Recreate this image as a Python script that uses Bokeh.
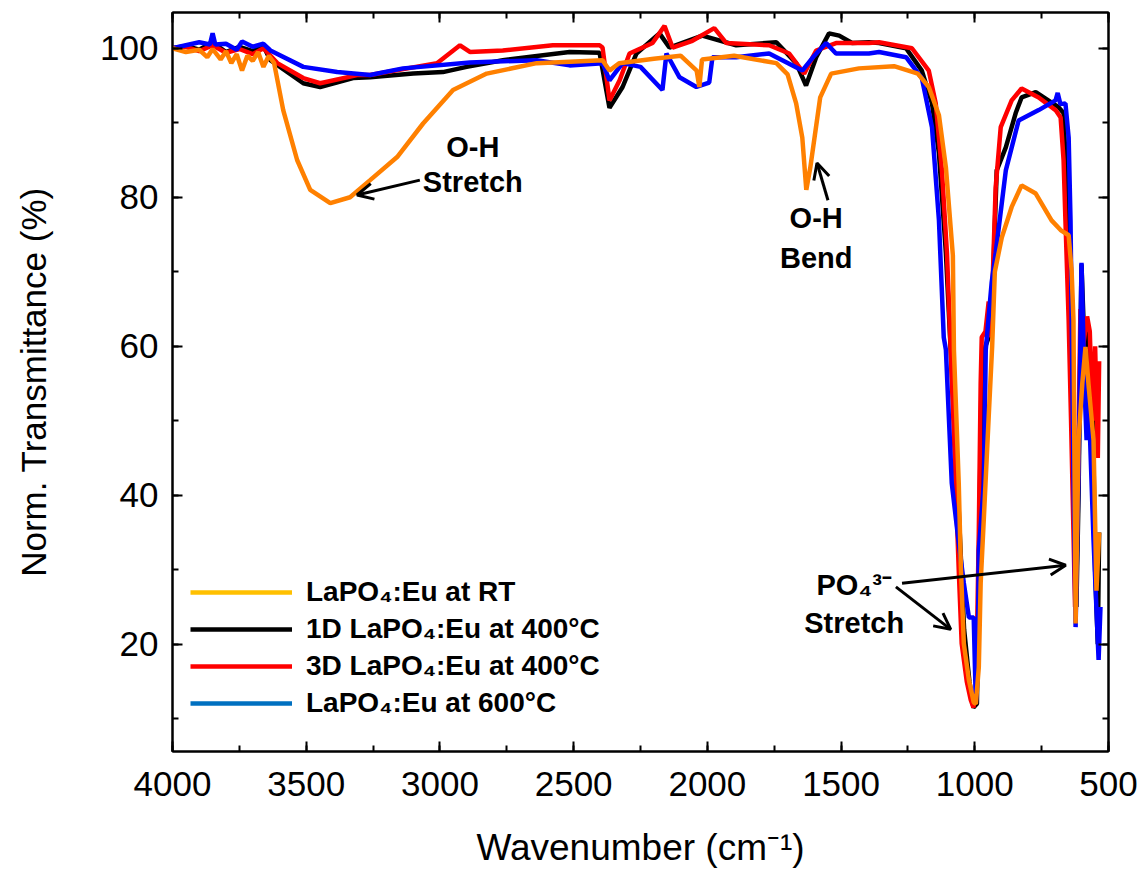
from bokeh.plotting import figure
from bokeh.models import (Range1d, SingleIntervalTicker, LinearAxis, Legend, LegendItem,
                          Label, Arrow, OpenHead, CustomLabelingPolicy)
from bokeh.embed import file_html
from bokeh.resources import INLINE

# ---------------- data ----------------
rt_wn = [4000, 3950, 3900, 3870, 3850, 3820, 3800, 3780, 3760, 3740, 3720, 3700, 3680, 3660,
         3640, 3620, 3586, 3534, 3485, 3410, 3336, 3261, 3160, 3063, 2951, 2825, 2638, 2392,
         2366, 2330, 2200, 2100, 2040, 2030, 2020, 1900, 1742, 1700, 1668, 1645, 1630, 1615,
         1578, 1537, 1433, 1302, 1213, 1172, 1134, 1108, 1082, 1078, 1060, 1052, 1041, 1022,
         1004, 996, 985, 978, 966, 948, 935, 925, 899, 862, 825, 772, 713, 679, 649, 638, 631,
         623, 612, 598, 586, 575, 556, 545, 535]
rt_t = [100, 99.5, 99.8, 98.8, 99.9, 98.5, 99.6, 98.0, 99.2, 97.0, 99.0, 98.3, 99.5, 97.5,
        99.0, 98.0, 91.7, 85.0, 81.0, 79.2, 80.0, 82.3, 85.4, 89.9, 94.4, 96.6, 98.0, 98.4,
        97.0, 98.0, 98.6, 99.0, 97.0, 94.8, 98.5, 99.0, 98.0, 96.5, 92.6, 88.0, 81.0, 84.0,
        93.4, 96.6, 97.3, 97.6, 96.6, 94.8, 91.0, 84.0, 72.2, 59.5, 41.6, 30.3, 20.1, 15.2,
        12.2, 12.0, 16.9, 28.2, 37.0, 50.5, 60.0, 70.0, 74.6, 78.7, 81.6, 80.5, 76.9, 75.6,
        74.9, 70.2, 63.5, 22.8, 47.4, 55.0, 59.9, 55.0, 47.4, 27.2, 35.0]

d1_wn = [4000, 3950, 3900, 3850, 3800, 3750, 3700, 3660, 3634, 3511, 3448, 3325, 3261, 3100,
         2989, 2900, 2765, 2515, 2403, 2366, 2317, 2265, 2179, 2142, 2019, 1892, 1742, 1668,
         1631, 1593, 1545, 1507, 1459, 1396, 1358, 1257, 1198, 1160, 1134, 1108, 1090, 1060,
         1040, 1020, 1005, 992, 985, 975, 960, 950, 937, 918, 884, 847, 825, 772, 687, 668,
         657, 642, 630, 620, 612, 601, 590, 580, 570, 560, 550, 540, 535]
d1_t = [100, 100.3, 99.8, 100.8, 99.5, 100.2, 99.6, 100.3, 98.4, 95.3, 94.8, 96.0, 96.1, 96.6,
        96.8, 97.5, 98.4, 99.5, 99.4, 92.0, 94.8, 99.3, 102.0, 100.1, 101.7, 100.4, 100.8, 98.0,
        95.0, 98.8, 102.0, 101.7, 100.7, 100.8, 100.7, 100.0, 97.0, 92.6, 85.9, 72.5, 59.5, 38.0,
        22.0, 15.0, 11.5, 12.0, 30.0, 55.0, 60.0, 61.0, 63.5, 83.6, 86.7, 91.3, 93.4, 94.1, 92.1,
        91.3, 81.3, 72.5, 50.0, 25.0, 40.0, 71.0, 60.0, 62.0, 48.0, 55.0, 30.0, 20.0, 35.0]

d3_wn = [4000, 3950, 3900, 3850, 3800, 3750, 3700, 3660, 3608, 3511, 3448, 3310, 3261, 3011,
         2925, 2888, 2765, 2578, 2403, 2392, 2366, 2328, 2291, 2205, 2160, 2130, 2056, 1974,
         1929, 1769, 1694, 1638, 1593, 1519, 1396, 1358, 1235, 1172, 1146, 1123, 1104, 1080,
         1060, 1049, 1030, 1015, 1005, 995, 985, 978, 974, 960, 948, 940, 922, 903, 862, 825,
         761, 698, 679, 668, 661, 649, 640, 625, 615, 605, 595, 580, 570, 560, 550, 540, 535]
d3_t = [100, 100.2, 99.6, 100.4, 99.4, 99.9, 99.2, 100.0, 98.0, 96.0, 95.3, 96.4, 96.4, 98.0,
        100.4, 99.5, 99.7, 100.4, 100.4, 100.1, 93.0, 95.7, 99.3, 100.7, 103.0, 100.1, 101.0,
        102.7, 100.7, 100.4, 99.3, 96.6, 99.7, 100.7, 100.7, 100.8, 100.0, 97.0, 92.6, 83.6,
        72.5, 50.0, 30.0, 20.1, 15.0, 12.5, 11.5, 14.0, 35.0, 55.0, 61.2, 62.0, 66.0, 61.2, 81.3,
        89.4, 93.0, 94.6, 93.4, 91.7, 90.7, 85.0, 76.9, 63.5, 50.0, 25.0, 40.0, 65.0, 60.0,
        64.0, 62.0, 50.0, 60.0, 45.0, 58.0]

d6_wn = [4000, 3950, 3900, 3860, 3850, 3840, 3800, 3760, 3740, 3700, 3660, 3634, 3511, 3384,
         3261, 3138, 2888, 2638, 2515, 2392, 2366, 2317, 2250, 2168, 2153, 2104, 2041, 1993,
         1981, 1892, 1769, 1645, 1600, 1556, 1519, 1396, 1358, 1257, 1198, 1160, 1134, 1116,
         1108, 1086, 1060, 1041, 1022, 1004, 996, 990, 985, 966, 959, 937, 922, 884, 836, 761,
         698, 690, 680, 661, 649, 642, 630, 623, 612, 601, 590, 582, 575, 556, 537, 530]
d6_t = [100, 100.4, 100.8, 100.5, 102.0, 100.5, 100.6, 99.8, 100.9, 100.2, 100.6, 99.7, 97.5,
        96.8, 96.4, 97.3, 98.1, 98.4, 97.7, 98.0, 95.7, 98.0, 97.5, 94.4, 99.3, 96.1, 94.8, 95.4,
        98.8, 98.8, 99.3, 97.0, 99.0, 100.7, 99.3, 99.3, 99.5, 98.8, 96.0, 89.4, 76.9, 61.2, 59.5,
        41.6, 33.6, 28.2, 23.6, 23.6, 12.0, 15.6, 32.6, 41.6, 59.5, 68.5, 72.5, 83.6, 90.3, 91.7,
        93.0, 94.0, 92.5, 92.6, 88.0, 76.9, 40.0, 22.3, 43.0, 71.2, 55.0, 47.4, 54.0, 34.0, 17.9,
        25.0]

legend_labels = ["LaPO\u2084:Eu at RT", "1D LaPO\u2084:Eu at 400\u00b0C",
                 "3D LaPO\u2084:Eu at 400\u00b0C", "LaPO\u2084:Eu at 600\u00b0C"]
legend_colors = ["#FFC000", "#000000", "#FF0000", "#0070C0"]

x_ticks_interval = 500
y_ticks_interval = 20

# ---------------- figure ----------------
FONT = "Liberation Sans"

p = figure(width=1142, height=871, output_backend="svg", toolbar_location=None,
           x_range=Range1d(4000, 500), y_range=Range1d(5.6, 104.8),
           min_border_left=172, min_border_right=34, min_border_top=12, min_border_bottom=120,
           background_fill_color="white", border_fill_color="white")
p.xgrid.visible = False
p.ygrid.visible = False
p.outline_line_color = "black"
p.outline_line_width = 2

xt = SingleIntervalTicker(interval=x_ticks_interval, num_minor_ticks=2)
yt = SingleIntervalTicker(interval=y_ticks_interval, num_minor_ticks=2)
p.xaxis.ticker = xt
p.yaxis.ticker = yt

for ax in (p.xaxis[0], p.yaxis[0]):
    ax.axis_line_width = 2
    ax.major_tick_line_width = 2
    ax.minor_tick_line_width = 2
    ax.major_tick_in = 10
    ax.major_tick_out = 0
    ax.minor_tick_in = 6
    ax.minor_tick_out = 0
    ax.major_label_text_color = "black"
    ax.axis_label_text_color = "black"
    ax.axis_label_text_font_style = "normal"

p.xaxis.axis_label = "Wavenumber (cm\u207b\u00b9)"
p.xaxis.axis_label_text_font = FONT
p.xaxis.axis_label_text_font_size = "37px"
p.xaxis.major_label_text_font = FONT
p.xaxis.major_label_text_font_size = "35px"
p.xaxis.major_label_standoff = 20
p.xaxis.axis_label_standoff = 28

p.yaxis.axis_label = "Norm. Transmittance (%)"
p.yaxis.axis_label_text_font = FONT
p.yaxis.axis_label_text_font_size = "35px"
p.yaxis.major_label_text_font = FONT
p.yaxis.major_label_text_font_size = "35px"
p.yaxis.major_label_standoff = 14
p.yaxis.axis_label_standoff = 44
p.yaxis.major_label_orientation = "horizontal"

# mirrored tick axes (top, right) without labels
no_labels = CustomLabelingPolicy(code="return new Set()")
for loc, tick in (("above", xt), ("right", yt)):
    a = LinearAxis(ticker=tick, major_label_policy=no_labels,
                   major_label_text_font_size="1px", major_label_standoff=0,
                   axis_line_width=2, major_tick_line_width=2, minor_tick_line_width=2,
                   major_tick_in=10, major_tick_out=0, minor_tick_in=6, minor_tick_out=0)
    p.add_layout(a, loc)

# ---------------- curves ----------------
LW = 4.5
p.line(d1_wn, d1_t, line_color="#000000", line_width=LW)
p.line(d3_wn, d3_t, line_color="#FF0000", line_width=LW)
p.line(d6_wn, d6_t, line_color="#0000FF", line_width=LW)
p.line(rt_wn, rt_t, line_color="#FF8000", line_width=LW)

# ---------------- legend ----------------
nan = float("nan")
items = []
for lab, col in zip(legend_labels, legend_colors):
    r = p.line(x=[nan, nan], y=[nan, nan], line_color=col, line_width=4.5)
    items.append(LegendItem(label=lab, renderers=[r]))
legend = Legend(items=items, location=(8, 22), orientation="vertical",
                border_line_alpha=0, background_fill_alpha=0,
                label_text_font=FONT, label_text_font_size="28px", label_text_font_style="bold",
                label_text_color="black",
                glyph_width=102, glyph_height=30, label_height=30, label_standoff=14,
                spacing=5, padding=10, margin=0)
p.add_layout(legend)

# ---------------- annotations ----------------
def lab(x, y, t):
    p.add_layout(Label(x=x, y=y, text=t, text_font=FONT, text_font_size="29px",
                       text_font_style="bold", text_align="center", text_baseline="middle",
                       text_color="black"))

lab(2877, 86.7, "O-H")
lab(2877, 82.1, "Stretch")
lab(1593, 77.2, "O-H")
lab(1593, 71.8, "Bend")
lab(1451, 27.9, "PO\u2084\u00b3\u207b")
lab(1451, 22.8, "Stretch")

def arrow(x0, y0, x1, y1):
    p.add_layout(Arrow(end=OpenHead(size=16, line_width=3, line_color="black"),
                       x_start=x0, y_start=y0, x_end=x1, y_end=y1,
                       line_width=3, line_color="black"))

arrow(3075, 82.3, 3310, 80.3)
arrow(1549, 79.6, 1590, 84.6)
arrow(1272, 28.2, 660, 30.6)
arrow(1295, 27.7, 1090, 22.0)

open("out.html", "w").write(file_html(p, INLINE))
